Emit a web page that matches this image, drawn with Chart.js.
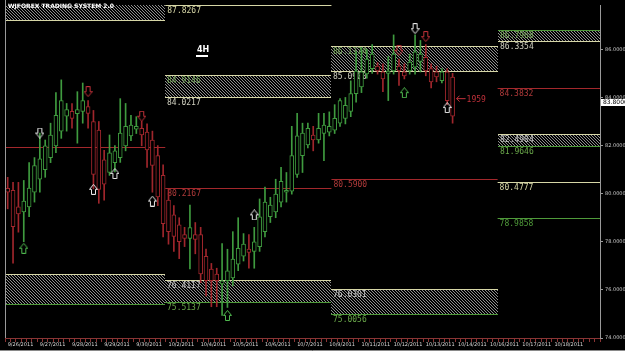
<!DOCTYPE html>
<html>
<head>
<meta charset="utf-8">
<script src="https://cdn.jsdelivr.net/npm/chart.js@4.4.0/dist/chart.umd.min.js"></script>
<style>
html, body { margin: 0; padding: 0; background: #000; }
#wrap { width: 625px; height: 351px; }
</style>
</head>
<body>
<div id="wrap"><canvas id="myChart" width="625" height="351"></canvas></div>
<script>
// 4H bars
const dayLabels = ['9/26/2011','9/27/2011','9/28/2011','9/29/2011','9/30/2011','10/2/2011','10/4/2011','10/5/2011','10/6/2011',
  '10/7/2011','10/9/2011','10/11/2011','10/12/2011','10/13/2011','10/14/2011','10/16/2011','10/17/2011','10/18/2011'];
const barsPerDay = 6;
const slotCount = 111;
const yTicks = [74, 76, 78, 80, 82, 84, 86];

const opens = [80.22,80.14,79.45,79.24,79.45,80.06,80.6,81.0,81.5,81.99,
  82.6,83.22,83.42,83.33,83.42,83.62,83.0,82.64,81.41,80.88,
  81.29,81.5,81.99,82.4,82.68,82.72,82.56,82.23,81.58,80.76,
  79.73,79.12,78.7,78.30,78.14,78.3,78.3,77.4,76.87,76.66,
  76.25,76.38,76.5,77.07,77.4,77.7,77.6,77.8,78.42,79.04,
  79.24,79.65,80.06,80.1,80.8,81.58,82.03,82.44,82.23,82.5,
  82.56,82.64,82.93,83.13,83.42,84.16,84.44,84.98,85.2,85.3,
  85.06,85.0,85.1,85.3,85.06,85.1,85.26,85.5,85.67,85.2,
  85.06,84.7,85.06,84.85];
const highs = [80.68,80.47,80.47,80.55,81.29,81.5,82.52,82.23,82.93,84.2,
  84.73,83.75,83.75,84.24,84.6,83.87,83.46,83.0,81.8,82.44,
  82.0,83.95,83.75,83.26,83.2,83.0,82.9,82.6,82.0,81.2,
  80.2,79.5,79.0,78.6,79.53,78.8,78.6,77.7,77.1,76.9,
  77.93,77.69,78.42,79.0,78.34,78.3,78.6,79.78,80.27,79.85,
  80.6,81.09,80.88,82.8,83.34,82.93,82.93,82.8,83.34,83.34,
  83.4,83.7,83.95,84.0,84.69,85.9,86.08,86.0,86.2,85.45,
  85.4,85.7,86.6,85.6,85.4,85.8,86.6,86.37,86.2,85.4,
  85.3,85.2,85.2,85.0];
const lows = [79.37,77.11,78.4,78.0,79.04,79.65,80.06,80.68,81.29,81.7,
  82.3,82.6,82.72,82.1,82.93,82.72,80.2,79.6,79.73,80.76,
  80.9,81.3,81.78,82.2,82.5,81.99,81.09,80.06,79.5,78.2,
  77.9,77.6,77.3,77.8,76.87,77.5,76.3,75.75,75.3,75.3,
  74.94,75.27,76.17,76.8,77.2,76.9,76.9,77.6,78.2,78.8,
  79.0,79.45,79.65,79.98,80.68,80.88,81.9,81.78,82.1,81.37,
  82.4,82.5,82.8,82.9,83.2,83.8,84.2,84.8,85.0,84.97,
  84.24,83.87,84.97,84.5,84.77,84.97,84.97,85.06,84.9,84.4,
  84.65,84.6,83.7,82.93];
const closes = [80.06,78.63,79.16,79.69,80.23,81.17,81.45,81.99,82.44,83.26,
  83.87,83.5,83.13,83.5,83.87,83.34,80.8,80.18,80.39,81.7,
  81.78,82.52,82.8,82.85,82.8,82.44,81.82,81.17,79.86,78.75,
  78.42,78.22,78.0,78.14,78.59,78.1,76.66,76.38,76.38,76.38,
  76.38,76.79,77.28,77.73,77.9,77.56,78.0,79.04,79.65,79.53,
  79.98,80.51,80.14,81.58,82.4,82.52,82.72,82.23,82.72,82.85,
  82.8,83.13,83.87,83.67,84.16,85.1,85.06,85.6,85.8,85.1,
  84.77,85.1,85.8,85.1,84.9,85.47,85.9,85.8,85.1,84.65,
  84.85,85.06,83.87,83.22];

// weekly pivot periods (in bar units)
const periodStart = [-0.5, 29.4, 60.4, 91.4];
const periodEnd = [29.4, 60.4, 91.4, 110.5];

// hatched boxes
const zonePeriod = [0, 0, 1, 1, 2, 2, 3, 3];
const zoneHigh = [88.4, 76.66, 84.9146, 76.4117, 86.1374, 76.0301, 86.7968, 82.4904];
const zoneLow = [87.23, 75.43, 84.0217, 75.5137, 85.0900, 75.0056, 86.3354, 81.9646];

// single levels
const levelPeriod = [0, 1, 1, 2, 3, 3, 3];
const levelPrice = [81.95, 87.8267, 80.2167, 80.59, 84.3832, 80.4777, 78.9858];

// signal arrows (bar index, price)
const whiteUpBars = [16, 20, 27, 46, 82];
const whiteUpPrices = [80.18, 80.84, 79.69, 79.12, 83.58];
const whiteDownBars = [6, 76];
const whiteDownPrices = [82.52, 86.86];
const greenUpBars = [3, 41, 74];
const greenUpPrices = [77.73, 74.94, 84.2];
const redDownBars = [15, 25, 73, 78];
const redDownPrices = [84.24, 83.22, 85.96, 86.53];

const lastPrice = 83.80;

const CREAM = '#d6d6a6';
const GREEN = '#4f9a3a';
const RED = '#a3282c';
const UPC = '#3f9b3f';
const DNC = '#a0262c';

const zoneTopColor = [CREAM, CREAM, CREAM, CREAM, CREAM, CREAM, GREEN, CREAM];
const zoneBotColor = [CREAM, GREEN, CREAM, GREEN, CREAM, GREEN, CREAM, GREEN];
const zoneTopText = ['#000', '#000', '#76a85a', '#c8c8c8', '#76a85a', '#c8c8c8', '#76a85a', '#c8c8c8'];
const levelColor = [RED, CREAM, RED, RED, RED, CREAM, GREEN];

const labels = Array.from({length: slotCount}, (_, i) => i % barsPerDay === 0 ? (dayLabels[i / barsPerDay] || '') : '');
const barColor = opens.map((o, i) => closes[i] >= o ? UPC : DNC);

function slots(bars, prices) {
  const arr = new Array(slotCount).fill(null);
  bars.forEach((b, k) => arr[b] = prices[k]);
  return arr;
}

function arrowIcon(color, up) {
  const c = document.createElement('canvas');
  c.width = 9; c.height = 11;
  const g = c.getContext('2d');
  g.strokeStyle = color; g.lineWidth = 1;
  const pts = [[4.5,0.5],[8.5,5.5],[6.5,5.5],[6.5,10.5],[2.5,10.5],[2.5,5.5],[0.5,5.5]];
  g.beginPath();
  pts.forEach(([x, y], k) => { const yy = up ? y : 11 - y; k ? g.lineTo(x, yy) : g.moveTo(x, yy); });
  g.closePath(); g.stroke();
  return c;
}

function hatchTile() {
  const c = document.createElement('canvas');
  c.width = 3; c.height = 3;
  const g = c.getContext('2d');
  g.fillStyle = '#000'; g.fillRect(0, 0, 3, 3);
  g.fillStyle = '#8e8e8e';
  for (let k = 0; k < 3; k++) g.fillRect(k, k, 1, 1);
  return c;
}

function hline(ctx, x0, x1, y, color) {
  ctx.strokeStyle = color; ctx.lineWidth = 1;
  ctx.beginPath();
  ctx.moveTo(x0, Math.round(y) + 0.5); ctx.lineTo(x1, Math.round(y) + 0.5);
  ctx.stroke();
}

const pivotPlugin = {
  id: 'pivots',
  beforeDatasetsDraw(chart) {
    const {ctx, chartArea, scales: {x, y}} = chart;
    ctx.save();
    ctx.beginPath();
    ctx.rect(chartArea.left, chartArea.top, chartArea.right - chartArea.left, chartArea.bottom - chartArea.top);
    ctx.clip();
    const hatch = ctx.createPattern(hatchTile(), 'repeat');
    ctx.font = '8px "DejaVu Sans Mono"';
    ctx.textBaseline = 'top';
    zoneHigh.forEach((hi, k) => {
      const p = zonePeriod[k];
      const x0 = Math.round(x.getPixelForValue(periodStart[p]));
      const x1 = Math.round(x.getPixelForValue(periodEnd[p]));
      const y0 = Math.round(y.getPixelForValue(hi));
      const y1 = Math.round(y.getPixelForValue(zoneLow[k]));
      ctx.fillStyle = hatch;
      ctx.fillRect(x0, y0, x1 - x0, y1 - y0);
      hline(ctx, x0, x1, y0, zoneTopColor[k]);
      hline(ctx, x0, x1, y1, zoneBotColor[k]);
      if (p > 0) {
        ctx.fillStyle = zoneTopText[k];
        ctx.fillText(hi.toFixed(4), x0 + 2, y0 + 2);
        ctx.fillStyle = zoneBotColor[k] === GREEN ? '#6aa84a' : '#d0d0c0';
        ctx.fillText(zoneLow[k].toFixed(4), x0 + 2, y1 + 2);
      }
    });
    levelPrice.forEach((v, k) => {
      const p = levelPeriod[k];
      const x0 = x.getPixelForValue(periodStart[p]);
      const x1 = x.getPixelForValue(periodEnd[p]);
      const yy = y.getPixelForValue(v);
      hline(ctx, x0, x1, yy, levelColor[k]);
      if (p > 0) {
        ctx.fillStyle = levelColor[k] === RED ? '#b03a3a' : levelColor[k];
        ctx.fillText(v.toFixed(4), x0 + 2, Math.round(yy) + 2);
      }
    });
    ctx.restore();
  },
  afterDraw(chart) {
    const {ctx, chartArea, scales: {x, y}} = chart;
    ctx.save();
    // left frame
    ctx.strokeStyle = '#9a9a9a';
    ctx.beginPath(); ctx.moveTo(chartArea.left + 0.5, 0); ctx.lineTo(chartArea.left + 0.5, chartArea.bottom); ctx.stroke();
    // title
    ctx.fillStyle = '#ffffff';
    ctx.font = 'bold 6px "DejaVu Sans"';
    ctx.textBaseline = 'top';
    ctx.fillText('WJFOREX TRADING SYSTEM 2.0', chartArea.left + 3, 3);
    // timeframe tag
    ctx.font = 'bold 8px "DejaVu Sans"';
    ctx.fillText('4H', 197, 46);
    ctx.fillRect(196, 55, 12, 2);
    // last price box
    const py = y.getPixelForValue(lastPrice);
    ctx.fillStyle = '#ffffff';
    ctx.fillRect(chartArea.right + 1, Math.round(py) - 3, 24, 7);
    ctx.fillStyle = '#000';
    ctx.font = '6px "DejaVu Sans"';
    ctx.textBaseline = 'middle';
    ctx.fillText(lastPrice.toFixed(4), chartArea.right + 3, Math.round(py) + 0.5);
    // pip counter next to last bar
    const lx = x.getPixelForValue(opens.length - 1);
    const ly = y.getPixelForValue(83.95);
    ctx.strokeStyle = '#c0303a';
    ctx.beginPath();
    ctx.moveTo(lx + 4, ly); ctx.lineTo(lx + 13, ly);
    ctx.moveTo(lx + 4, ly); ctx.lineTo(lx + 7, ly - 3);
    ctx.moveTo(lx + 4, ly); ctx.lineTo(lx + 7, ly + 3);
    ctx.stroke();
    ctx.fillStyle = '#c0303a';
    ctx.font = '8px "DejaVu Sans Mono"';
    ctx.fillText('1959', lx + 14, ly + 1);
    // bottom frame
    ctx.strokeStyle = '#8a8a8a';
    ctx.beginPath(); ctx.moveTo(0, 350.5); ctx.lineTo(625, 350.5); ctx.stroke();
    ctx.restore();
  }
};

const ctx = document.getElementById('myChart').getContext('2d');
const chart = new Chart(ctx, {
  type: 'bar',
  data: {
    labels: labels,
    datasets: [
      {
        type: 'line', data: slots(whiteUpBars, whiteUpPrices), showLine: false,
        pointStyle: arrowIcon('#e8e8e8', true), order: 0
      },
      {
        type: 'line', data: slots(whiteDownBars, whiteDownPrices), showLine: false,
        pointStyle: arrowIcon('#e8e8e8', false), order: 0
      },
      {
        type: 'line', data: slots(greenUpBars, greenUpPrices), showLine: false,
        pointStyle: arrowIcon('#4fb84f', true), order: 0
      },
      {
        type: 'line', data: slots(redDownBars, redDownPrices), showLine: false,
        pointStyle: arrowIcon('#c03038', false), order: 0
      },
      {
        // candle bodies, hollow
        data: opens.map((o, i) => [o, closes[i]]),
        backgroundColor: '#000', borderColor: barColor, borderWidth: 1, borderSkipped: false,
        barThickness: 4, grouped: false, order: 1
      },
      {
        // wicks
        data: lows.map((l, i) => [l, highs[i]]),
        backgroundColor: barColor, borderWidth: 0,
        barThickness: 1, grouped: false, order: 2
      }
    ]
  },
  options: {
    responsive: false,
    animation: false,
    events: [],
    layout: { padding: { left: 2, top: 0, right: 0, bottom: 0 } },
    plugins: { legend: { display: false }, tooltip: { enabled: false } },
    scales: {
      x: {
        offset: true,
        grid: { display: true, drawOnChartArea: false, color: '#8a3434', tickLength: 4 },
        border: { color: '#8a3434' },
        ticks: { autoSkip: false, maxRotation: 0, align: 'start', padding: 0, color: '#d8d8d8', font: { size: 5, family: 'DejaVu Sans' } },
        afterFit: s => { s.height = 13; }
      },
      y: {
        position: 'right',
        min: 74, max: 87.843,
        afterBuildTicks: s => { s.ticks = yTicks.map(v => ({ value: v })); },
        grid: { display: true, drawOnChartArea: false, color: '#9a9a9a', tickLength: 3 },
        border: { color: '#9a9a9a' },
        ticks: { color: '#c8c8c8', padding: 2, font: { size: 5, family: 'DejaVu Sans' }, callback: v => Number(v).toFixed(4) },
        afterFit: s => { s.width = 25; }
      }
    }
  },
  plugins: [pivotPlugin]
});
</script>
</body>
</html>
